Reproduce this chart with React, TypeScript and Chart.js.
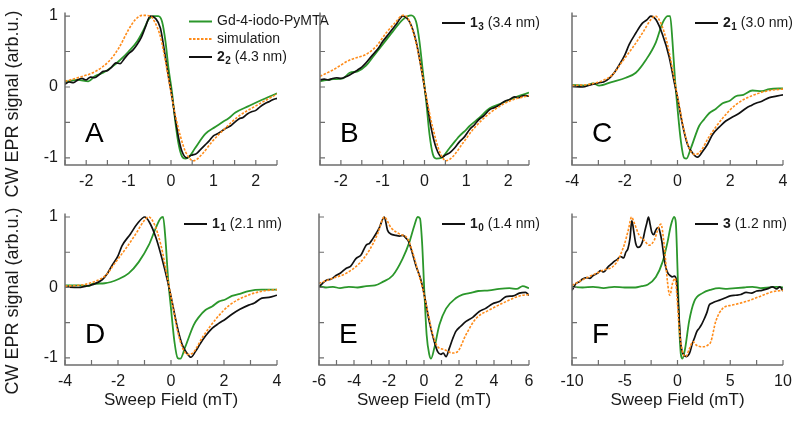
import React, { useEffect, useRef } from "react";
import { Chart, registerables } from "chart.js";
Chart.register(...registerables);

const W = 800;
const H = 427;
const GREEN = "#2b972b";
const ORANGE = "#ff8c1a";
const BLACK = "#111111";
const AXIS = "#6e6e6e";
const FONT = "'Liberation Sans', Arial, Helvetica, sans-serif";

// ---------- Panel A ----------
const aGreenX = [-2.5, -2.2, -1.95, -1.8, -1.6, -1.4, -1.2, -1.0, -0.8, -0.65, -0.53, -0.41, -0.3, -0.21, -0.13, -0.06, 0.02, 0.1, 0.18, 0.26, 0.34, 0.42, 0.57, 0.81, 1.05, 1.2, 1.36, 1.52, 1.83, 2.15, 2.5];
const aGreenY = [0.07, 0.1, 0.08, 0.15, 0.2, 0.28, 0.38, 0.5, 0.64, 0.8, 0.95, 1.0, 1.0, 0.92, 0.64, 0.27, -0.06, -0.48, -0.81, -0.98, -1.01, -0.99, -0.86, -0.66, -0.56, -0.5, -0.44, -0.36, -0.27, -0.18, -0.09];
const aBlackX = [-2.5, -2.4, -2.3, -2.2, -2.1, -2.0, -1.9, -1.8, -1.7, -1.6, -1.5, -1.4, -1.3, -1.2, -1.1, -1.0, -0.9, -0.8, -0.7, -0.6, -0.49, -0.37, -0.25, -0.13, -0.06, 0.02, 0.1, 0.18, 0.26, 0.38, 0.45, 0.5, 0.6, 0.7, 0.8, 0.9, 1.0, 1.1, 1.2, 1.3, 1.4, 1.5, 1.6, 1.7, 1.8, 1.9, 2.0, 2.1, 2.2, 2.3, 2.4, 2.5];
const aBlackY = [0.04, 0.07, 0.06, 0.1, 0.12, 0.1, 0.14, 0.13, 0.17, 0.22, 0.23, 0.28, 0.34, 0.33, 0.4, 0.47, 0.52, 0.6, 0.7, 0.85, 1.0, 0.97, 0.83, 0.41, 0.15, -0.13, -0.44, -0.72, -0.91, -1.0, -0.97, -0.96, -0.94, -0.88, -0.82, -0.76, -0.69, -0.66, -0.62, -0.58, -0.55, -0.5, -0.45, -0.43, -0.38, -0.35, -0.33, -0.28, -0.24, -0.21, -0.18, -0.16];
const aOrangeX = [-2.5, -2.2, -1.78, -1.47, -1.23, -1.0, -0.84, -0.68, -0.49, -0.37, -0.25, -0.13, -0.02, 0.1, 0.22, 0.34, 0.46, 0.53, 0.73, 0.97, 1.28, 1.6, 1.99, 2.5];
const aOrangeY = [0.08, 0.13, 0.22, 0.36, 0.55, 0.81, 0.95, 1.01, 1.0, 0.9, 0.71, 0.36, -0.01, -0.39, -0.69, -0.91, -1.02, -1.04, -0.95, -0.77, -0.58, -0.41, -0.27, -0.1];

// ---------- Panel B ----------
const bGreenX = [-2.5, -2.19, -1.95, -1.79, -1.6, -1.4, -1.24, -1.0, -0.76, -0.52, -0.32, -0.2, -0.12, -0.04, 0.04, 0.12, 0.2, 0.28, 0.4, 0.6, 0.84, 1.0, 1.08, 1.3, 1.56, 1.8, 2.03, 2.25, 2.5];
const bGreenY = [0.08, 0.11, 0.12, 0.2, 0.22, 0.3, 0.42, 0.6, 0.78, 0.95, 1.01, 0.92, 0.64, 0.22, -0.2, -0.67, -0.95, -1.01, -1.0, -0.86, -0.69, -0.6, -0.55, -0.44, -0.3, -0.24, -0.18, -0.13, -0.08];
const bBlackX = [-2.5, -2.4, -2.3, -2.2, -2.1, -2.0, -1.9, -1.79, -1.7, -1.6, -1.5, -1.4, -1.3, -1.2, -1.1, -1.0, -0.84, -0.68, -0.52, -0.36, -0.2, -0.08, 0.04, 0.16, 0.28, 0.42, 0.5, 0.6, 0.72, 0.84, 0.96, 1.08, 1.2, 1.3, 1.43, 1.56, 1.68, 1.8, 1.92, 2.03, 2.15, 2.25, 2.38, 2.5];
const bBlackY = [0.1, 0.11, 0.1, 0.12, 0.13, 0.12, 0.14, 0.17, 0.2, 0.24, 0.28, 0.34, 0.41, 0.48, 0.55, 0.64, 0.76, 0.88, 1.0, 0.92, 0.64, 0.27, -0.15, -0.58, -0.86, -0.99, -0.96, -0.93, -0.86, -0.77, -0.7, -0.6, -0.53, -0.46, -0.4, -0.32, -0.29, -0.25, -0.2, -0.18, -0.14, -0.15, -0.12, -0.13];
const bOrangeX = [-2.5, -2.19, -1.79, -1.4, -1.16, -0.92, -0.68, -0.52, -0.4, -0.24, -0.08, 0.04, 0.2, 0.36, 0.52, 0.68, 0.92, 1.16, 1.56, 2.03, 2.5];
const bOrangeY = [0.15, 0.24, 0.38, 0.46, 0.57, 0.76, 0.92, 1.01, 0.97, 0.71, 0.27, -0.13, -0.58, -0.91, -1.04, -0.98, -0.79, -0.6, -0.37, -0.2, -0.12];

// ---------- Panel C ----------
const cGreenX = [-4, -3.5, -3.2, -2.97, -2.5, -1.96, -1.58, -1.2, -0.82, -0.57, -0.38, -0.28, -0.19, -0.09, 0, 0.13, 0.25, 0.34, 0.51, 0.82, 1.0, 1.2, 1.45, 1.71, 2.0, 2.21, 2.5, 2.84, 3.2, 3.48, 4];
const cGreenY = [0.03, 0.02, 0.05, 0.02, 0.07, 0.13, 0.2, 0.38, 0.63, 0.9, 1.0, 1.0, 0.64, 0.08, -0.3, -0.77, -1.0, -1.01, -0.86, -0.55, -0.46, -0.37, -0.31, -0.23, -0.19, -0.13, -0.11, -0.05, -0.06, -0.03, -0.02];
const cBlackX = [-4, -3.6, -3.3, -2.97, -2.8, -2.59, -2.4, -2.21, -2.0, -1.83, -1.58, -1.33, -1.15, -1.01, -0.82, -0.57, -0.32, -0.13, 0, 0.19, 0.38, 0.57, 0.76, 0.95, 1.15, 1.33, 1.6, 1.83, 2.1, 2.34, 2.6, 2.8, 2.97, 3.2, 3.48, 3.75, 4];
const cBlackY = [0.01, 0.0, 0.03, 0.06, 0.07, 0.12, 0.2, 0.31, 0.45, 0.6, 0.76, 0.9, 0.95, 1.0, 0.95, 0.74, 0.43, 0.08, -0.15, -0.53, -0.81, -0.93, -0.99, -0.91, -0.8, -0.67, -0.56, -0.48, -0.42, -0.37, -0.3, -0.26, -0.23, -0.2, -0.15, -0.13, -0.11];
const cOrangeX = [-4, -3.3, -2.84, -2.47, -2.09, -1.71, -1.33, -1.01, -0.85, -0.63, -0.38, -0.13, 0.06, 0.25, 0.44, 0.63, 0.82, 1.2, 1.71, 2.21, 2.84, 3.48, 4];
const cOrangeY = [0.02, 0.04, 0.09, 0.17, 0.36, 0.55, 0.76, 0.95, 1.0, 0.9, 0.6, 0.13, -0.25, -0.62, -0.86, -0.95, -0.93, -0.7, -0.44, -0.25, -0.12, -0.05, -0.03];

// ---------- Panel D ----------
const dGreenX = [-4, -3.5, -3.1, -2.96, -2.5, -1.97, -1.6, -1.22, -0.84, -0.59, -0.4, -0.3, -0.21, -0.11, 0, 0.13, 0.25, 0.35, 0.54, 0.86, 1.05, 1.3, 1.55, 1.8, 2.05, 2.3, 2.6, 2.93, 3.43, 4];
const dGreenY = [0.03, 0.03, 0.02, 0.05, 0.06, 0.12, 0.2, 0.36, 0.6, 0.83, 0.98, 1.0, 0.69, 0.13, -0.3, -0.77, -1.0, -1.01, -0.84, -0.53, -0.42, -0.32, -0.27, -0.2, -0.17, -0.12, -0.09, -0.05, -0.03, -0.03];
const dBlackX = [-4, -3.5, -3.2, -2.96, -2.6, -2.4, -2.23, -2.0, -1.85, -1.53, -1.28, -0.99, -0.82, -0.57, -0.34, -0.11, 0.04, 0.23, 0.42, 0.6, 0.75, 0.92, 1.1, 1.3, 1.55, 1.8, 2.05, 2.3, 2.6, 2.93, 3.15, 3.43, 3.7, 4];
const dBlackY = [0.01, 0.0, 0.02, 0.04, 0.11, 0.2, 0.31, 0.45, 0.59, 0.76, 0.9, 1.0, 0.93, 0.71, 0.41, 0.06, -0.2, -0.55, -0.81, -0.93, -0.99, -0.91, -0.8, -0.69, -0.58, -0.51, -0.45, -0.38, -0.31, -0.25, -0.22, -0.15, -0.14, -0.11];
const dOrangeX = [-4, -3.3, -2.84, -2.47, -2.09, -1.71, -1.33, -1.01, -0.85, -0.63, -0.38, -0.13, 0.06, 0.25, 0.44, 0.63, 0.82, 1.2, 1.71, 2.21, 2.84, 3.48, 4];
const dOrangeY = [0.02, 0.04, 0.09, 0.17, 0.36, 0.55, 0.76, 0.95, 1.0, 0.9, 0.6, 0.13, -0.25, -0.62, -0.86, -0.95, -0.93, -0.7, -0.44, -0.25, -0.12, -0.05, -0.03];

// ---------- Panel E ----------
const eGreenX = [-6, -5.6, -5.2, -4.8, -4.3, -3.8, -3.3, -2.8, -2.36, -1.79, -1.22, -0.84, -0.55, -0.36, -0.23, -0.11, 0.02, 0.15, 0.3, 0.4, 0.59, 0.88, 1.26, 1.83, 2.2, 2.59, 3.1, 3.73, 4.3, 4.88, 5.3, 5.64, 6];
const eGreenY = [0.02, 0.0, 0.01, -0.01, 0.01, 0.0, 0.02, 0.03, 0.08, 0.17, 0.41, 0.64, 0.88, 1.0, 0.98, 0.64, -0.06, -0.67, -0.95, -1.01, -0.86, -0.53, -0.3, -0.15, -0.1, -0.08, -0.05, -0.04, -0.02, -0.01, -0.02, 0.02, -0.01];
const eBlackX = [-6, -5.8, -5.6, -5.3, -5.03, -4.75, -4.46, -4.2, -3.89, -3.6, -3.31, -3.1, -2.93, -2.7, -2.55, -2.27, -2.08, -1.9, -1.6, -1.41, -1.2, -1.03, -0.9, -0.74, -0.46, -0.17, 0.02, 0.3, 0.59, 0.78, 0.97, 1.1, 1.26, 1.45, 1.65, 1.83, 2.1, 2.4, 2.8, 3.16, 3.5, 3.92, 4.3, 4.69, 5.1, 5.45, 5.8, 6];
const eBlackY = [0.01, 0.06, 0.1, 0.12, 0.17, 0.21, 0.27, 0.3, 0.41, 0.46, 0.6, 0.63, 0.69, 0.78, 0.85, 1.0, 0.81, 0.76, 0.74, 0.73, 0.74, 0.7, 0.66, 0.55, 0.31, 0.1, -0.11, -0.48, -0.77, -0.91, -0.95, -0.93, -0.98, -0.86, -0.72, -0.62, -0.55, -0.48, -0.42, -0.34, -0.3, -0.23, -0.2, -0.13, -0.12, -0.08, -0.07, -0.11];
const eOrangeX = [-6, -5.22, -4.46, -3.7, -3.12, -2.65, -2.27, -1.89, -1.41, -0.93, -0.65, -0.36, -0.08, 0.21, 0.5, 0.78, 1.16, 1.64, 1.92, 2.4, 2.97, 3.73, 4.69, 5.45, 6];
const eOrangeY = [0.06, 0.13, 0.2, 0.34, 0.53, 0.76, 1.0, 0.85, 0.76, 0.69, 0.5, 0.24, -0.01, -0.34, -0.67, -0.84, -0.88, -0.93, -0.91, -0.67, -0.44, -0.32, -0.2, -0.12, -0.1];

// ---------- Panel F ----------
const fGreenX = [-10, -9, -8, -7, -6, -5, -4, -3.4, -2.84, -2.05, -1.42, -0.95, -0.63, -0.32, -0.16, 0, 0.16, 0.32, 0.47, 0.73, 1.1, 1.58, 2.37, 3.2, 3.95, 4.7, 5.5, 6.3, 7.1, 7.9, 8.7, 9.4, 10];
const fGreenY = [0.01, 0.0, 0.01, -0.01, 0.01, 0.0, 0.0, 0.02, 0.04, 0.15, 0.36, 0.64, 0.88, 1.0, 0.92, 0.27, -0.53, -0.95, -1.01, -0.86, -0.48, -0.2, -0.08, -0.03, -0.01, -0.02, -0.01, 0.0, 0.01, -0.01, 0.0, 0.01, 0.0];
const fBlackX = [-10, -9.6, -9.3, -9, -8.6, -8.3, -8, -7.6, -7.3, -7, -6.6, -6.3, -6, -5.7, -5.4, -5.1, -4.9, -4.7, -4.5, -4.33, -4.15, -3.95, -3.75, -3.55, -3.3, -3.1, -2.9, -2.75, -2.6, -2.43, -2.25, -2.1, -1.95, -1.8, -1.65, -1.48, -1.3, -1.1, -0.9, -0.7, -0.5, -0.3, -0.1, 0.1, 0.3, 0.55, 0.85, 1.15, 1.4, 1.6, 1.85, 2.05, 2.3, 2.55, 2.8, 3.0, 3.3, 3.6, 4, 4.5, 5, 5.5, 6, 6.5, 7, 7.5, 8, 8.5, 9, 9.4, 9.7, 10];
const fBlackY = [-0.04, 0.06, 0.08, 0.12, 0.14, 0.13, 0.17, 0.2, 0.24, 0.22, 0.29, 0.33, 0.37, 0.4, 0.44, 0.42, 0.5, 0.55, 0.7, 0.95, 0.8, 0.62, 0.57, 0.58, 0.66, 0.8, 0.92, 1.0, 0.9, 0.78, 0.75, 0.8, 0.84, 0.85, 0.78, 0.65, 0.45, 0.28, 0.2, 0.17, 0.15, 0.16, 0.1, -0.3, -0.78, -0.95, -0.98, -0.93, -0.8, -0.72, -0.62, -0.58, -0.52, -0.44, -0.35, -0.25, -0.22, -0.2, -0.18, -0.15, -0.12, -0.11, -0.1, -0.07, -0.08, -0.05, -0.04, -0.02, 0.01, -0.02, 0.01, -0.05];
const fOrangeX = [-10, -8.72, -7.14, -5.85, -5.06, -4.64, -4.36, -4.11, -3.63, -3.16, -2.69, -2.21, -1.8, -1.58, -1.26, -0.95, -0.73, -0.47, -0.22, -0.06, 0.16, 0.47, 0.79, 1.1, 1.48, 1.8, 2.21, 2.53, 2.84, 3.16, 3.63, 4.27, 5.21, 6.48, 7.74, 9.0, 10];
const fOrangeY = [0.03, 0.13, 0.24, 0.34, 0.6, 0.83, 1.0, 0.92, 0.74, 0.67, 0.6, 0.67, 0.85, 0.9, 0.6, 0.08, -0.11, 0.06, 0.13, -0.11, -0.58, -0.91, -0.98, -0.88, -0.77, -0.82, -0.84, -0.84, -0.82, -0.77, -0.48, -0.3, -0.25, -0.2, -0.13, -0.06, -0.04];

// tick labels
const yTickValues = [-1, -0.5, 0, 0.5, 1];
const yTickLabels = ["-1", "", "0", "", "1"];
const yTitle = "CW EPR signal (arb.u.)";
const xTitle = "Sweep Field (mT)";
const legendNames = ["Gd-4-iodo-PyMTA", "simulation"];

type Series = [number[], number[]];
type Panel = {
  letter: string;
  left: number; top: number; right: number; bottom: number;
  xMin: number; xMax: number; tickStep: number; labelStep: number;
  green: Series; black: Series; orange: Series;
  bold: string; sub: string; rest: string;
  legendDx: number;
  full: boolean; yLabels: boolean; xTitle: boolean; yTitleCenter: number;
};

const panels: Panel[] = [
  { letter: "A", left: 65, top: 12.5, right: 277, bottom: 165, xMin: -2.5, xMax: 2.5, tickStep: 0.5, labelStep: 1,
    green: [aGreenX, aGreenY], black: [aBlackX, aBlackY], orange: [aOrangeX, aOrangeY],
    bold: "2", sub: "2", rest: " (4.3 nm)", legendDx: 124, full: true, yLabels: true, xTitle: false, yTitleCenter: 104 },
  { letter: "B", left: 320, top: 12.5, right: 529, bottom: 165, xMin: -2.5, xMax: 2.5, tickStep: 0.5, labelStep: 1,
    green: [bGreenX, bGreenY], black: [bBlackX, bBlackY], orange: [bOrangeX, bOrangeY],
    bold: "1", sub: "3", rest: " (3.4 nm)", legendDx: 122, full: false, yLabels: false, xTitle: false, yTitleCenter: 0 },
  { letter: "C", left: 572, top: 12.5, right: 783, bottom: 165, xMin: -4, xMax: 4, tickStep: 1, labelStep: 2,
    green: [cGreenX, cGreenY], black: [cBlackX, cBlackY], orange: [cOrangeX, cOrangeY],
    bold: "2", sub: "1", rest: " (3.0 nm)", legendDx: 123, full: false, yLabels: false, xTitle: false, yTitleCenter: 0 },
  { letter: "D", left: 65, top: 213.5, right: 277, bottom: 365, xMin: -4, xMax: 4, tickStep: 1, labelStep: 2,
    green: [dGreenX, dGreenY], black: [dBlackX, dBlackY], orange: [dOrangeX, dOrangeY],
    bold: "1", sub: "1", rest: " (2.1 nm)", legendDx: 119, full: false, yLabels: true, xTitle: true, yTitleCenter: 301 },
  { letter: "E", left: 319, top: 213.5, right: 529, bottom: 365, xMin: -6, xMax: 6, tickStep: 1, labelStep: 2,
    green: [eGreenX, eGreenY], black: [eBlackX, eBlackY], orange: [eOrangeX, eOrangeY],
    bold: "1", sub: "0", rest: " (1.4 nm)", legendDx: 123, full: false, yLabels: false, xTitle: true, yTitleCenter: 0 },
  { letter: "F", left: 572, top: 213.5, right: 783, bottom: 365, xMin: -10, xMax: 10, tickStep: 2.5, labelStep: 5,
    green: [fGreenX, fGreenY], black: [fBlackX, fBlackY], orange: [fOrangeX, fOrangeY],
    bold: "3", sub: "", rest: " (1.2 nm)", legendDx: 123, full: false, yLabels: false, xTitle: true, yTitleCenter: 0 },
];

const pts = (s: Series) => s[0].map((x, i) => ({ x, y: s[1][i] }));

function legendLine(ctx: CanvasRenderingContext2D, x: number, y: number, color: string, dash: number[]) {
  ctx.save();
  ctx.strokeStyle = color;
  ctx.lineWidth = 2;
  ctx.setLineDash(dash);
  ctx.beginPath();
  ctx.moveTo(x, y);
  ctx.lineTo(x + 23, y);
  ctx.stroke();
  ctx.restore();
}

function makePlugin(p: Panel) {
  return {
    id: "panelDecor" + p.letter,
    afterDraw(chart: any) {
      const ctx: CanvasRenderingContext2D = chart.ctx;
      const xs = chart.scales.x;
      const ys = chart.scales.y;
      const { left, right, top, bottom } = chart.chartArea;
      ctx.save();
      // axes
      ctx.strokeStyle = AXIS;
      ctx.lineWidth = 1.5;
      ctx.beginPath();
      ctx.moveTo(left, top);
      ctx.lineTo(left, bottom);
      ctx.lineTo(right, bottom);
      ctx.stroke();
      // x ticks
      ctx.lineWidth = 1.2;
      ctx.beginPath();
      const n = Math.round((p.xMax - p.xMin) / p.tickStep);
      for (let i = 0; i <= n; i++) {
        const v = p.xMin + i * p.tickStep;
        const px = xs.getPixelForValue(v);
        ctx.moveTo(px, bottom);
        ctx.lineTo(px, bottom - 5);
      }
      // y ticks
      yTickValues.forEach((v) => {
        const py = ys.getPixelForValue(v);
        ctx.moveTo(left, py);
        ctx.lineTo(left + 5, py);
      });
      ctx.stroke();
      // x labels
      ctx.fillStyle = "#1a1a1a";
      ctx.font = `16px ${FONT}`;
      ctx.textAlign = "center";
      ctx.textBaseline = "middle";
      for (let i = 0; i <= n; i++) {
        const v = p.xMin + i * p.tickStep;
        const r = v / p.labelStep;
        if (Math.abs(r - Math.round(r)) > 1e-6) continue;
        const label = String(Math.round(v));
        ctx.fillText(label, xs.getPixelForValue(v), bottom + 17);
      }
      // y labels
      if (p.yLabels) {
        ctx.textAlign = "right";
        yTickValues.forEach((v, i) => {
          if (yTickLabels[i]) ctx.fillText(yTickLabels[i], left - 7, ys.getPixelForValue(v));
        });
        ctx.save();
        ctx.translate(13, p.yTitleCenter);
        ctx.rotate(-Math.PI / 2);
        ctx.textAlign = "center";
        ctx.font = `18px ${FONT}`;
        ctx.fillText(yTitle, 0, 0);
        ctx.restore();
      }
      if (p.xTitle) {
        ctx.textAlign = "center";
        ctx.font = `17px ${FONT}`;
        ctx.fillText(xTitle, (left + right) / 2, 400);
      }
      // panel letter
      ctx.textAlign = "left";
      ctx.textBaseline = "alphabetic";
      ctx.font = `28px ${FONT}`;
      ctx.fillStyle = "#000";
      ctx.fillText(p.letter, left + 20, top + 129);
      // legend
      const lx = left + p.legendDx;
      ctx.textBaseline = "middle";
      ctx.font = `14px ${FONT}`;
      let rowY = top + 10.5;
      if (p.full) {
        rowY = top + 9;
        legendLine(ctx, lx, rowY, GREEN, []);
        ctx.fillStyle = "#1a1a1a";
        ctx.fillText(legendNames[0], lx + 28, rowY);
        rowY = top + 26.5;
        legendLine(ctx, lx, rowY, ORANGE, [2.5, 1.5]);
        ctx.fillText(legendNames[1], lx + 28, rowY);
        rowY = top + 44.5;
      }
      legendLine(ctx, lx, rowY, BLACK, []);
      let tx = lx + 28;
      ctx.fillStyle = "#1a1a1a";
      ctx.font = `bold 14px ${FONT}`;
      ctx.fillText(p.bold, tx, rowY);
      tx += ctx.measureText(p.bold).width;
      if (p.sub) {
        ctx.font = `bold 10px ${FONT}`;
        ctx.fillText(p.sub, tx + 0.5, rowY + 4);
        tx += ctx.measureText(p.sub).width + 0.5;
      }
      ctx.font = `14px ${FONT}`;
      ctx.fillText(p.rest, tx, rowY);
      ctx.restore();
    },
  };
}

function PanelChart({ p }: { p: Panel }) {
  const ref = useRef<HTMLCanvasElement | null>(null);
  useEffect(() => {
    if (!ref.current) return;
    const chart = new Chart(ref.current, {
      type: "line",
      data: {
        datasets: [
          { label: "simulation", data: pts(p.orange), borderColor: ORANGE, borderWidth: 1.6, borderDash: [2.5, 1.5], pointRadius: 0, fill: false, cubicInterpolationMode: "monotone" },
          { label: "exp", data: pts(p.black), borderColor: BLACK, borderWidth: 1.7, pointRadius: 0, fill: false, cubicInterpolationMode: "monotone" },
          { label: "Gd-4-iodo-PyMTA", data: pts(p.green), borderColor: GREEN, borderWidth: 1.8, pointRadius: 0, fill: false, cubicInterpolationMode: "monotone" },
        ],
      },
      options: {
        animation: false,
        responsive: false,
        maintainAspectRatio: false,
        devicePixelRatio: 1,
        layout: { padding: { left: p.left, top: p.top, right: W - p.right, bottom: H - p.bottom } },
        scales: {
          x: { type: "linear", min: p.xMin, max: p.xMax, display: false },
          y: { type: "linear", min: -1.1, max: 1.05, display: false },
        },
        plugins: { legend: { display: false }, tooltip: { enabled: false } },
        events: [],
      },
      plugins: [makePlugin(p)],
    } as any);
    return () => chart.destroy();
  }, [p]);
  return <canvas ref={ref} width={W} height={H} style={{ position: "absolute", left: 0, top: 0, width: W, height: H }} />;
}

export default function App() {
  return (
    <div style={{ position: "fixed", left: 0, top: 0, width: W, height: H, background: "#fff", overflow: "hidden" }}>
      {panels.map((p) => (
        <PanelChart key={p.letter} p={p} />
      ))}
    </div>
  );
}
